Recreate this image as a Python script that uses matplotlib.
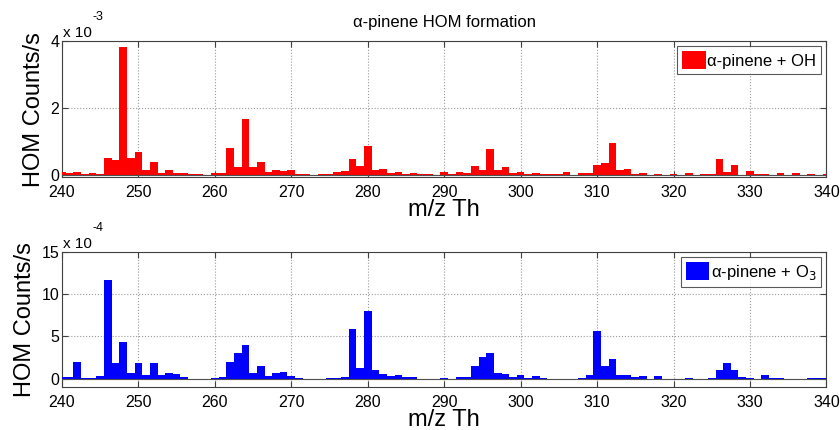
import matplotlib
matplotlib.use("Agg")
import matplotlib.pyplot as plt
import numpy as np

plt.rcParams['font.family'] = ['Liberation Sans', 'DejaVu Sans']

# m/z (Th), one bar per unit mass
mz = np.arange(240, 341)

# alpha-pinene + OH, in units of 1e-3 counts/s
oh_vals = [0.09, 0.06, 0.10, 0.03, 0.06, 0.05, 0.53, 0.45, 3.82, 0.51,
           0.70, 0.15, 0.41, 0.08, 0.17, 0.08, 0.06, 0.03, 0.03, 0.01,
           0.06, 0.06, 0.82, 0.25, 1.68, 0.25, 0.39, 0.10, 0.15, 0.12,
           0.15, 0.05, 0.05, 0.00, 0.05, 0.05, 0.09, 0.12, 0.48, 0.28,
           0.87, 0.15, 0.19, 0.08, 0.11, 0.05, 0.08, 0.05, 0.05, 0.02,
           0.09, 0.03, 0.10, 0.08, 0.29, 0.17, 0.78, 0.15, 0.25, 0.08,
           0.09, 0.05, 0.08, 0.05, 0.04, 0.04, 0.10, 0.02, 0.06, 0.06,
           0.30, 0.38, 0.97, 0.15, 0.18, 0.03, 0.06, 0.02, 0.04, 0.02,
           0.04, 0.02, 0.06, 0.02, 0.04, 0.05, 0.48, 0.11, 0.30, 0.02,
           0.12, 0.03, 0.03, 0.02, 0.08, 0.02, 0.06, 0.02, 0.04, 0.02,
           0.04]
oh_scale = 1e-3

# alpha-pinene + O3, in units of 1e-4 counts/s
o3_vals = [0.2, 0.2, 2.0, 0.08, 0.08, 0.27, 11.7, 1.9, 4.3, 0.6,
           1.9, 0.4, 1.9, 0.4, 0.6, 0.5, 0.15, 0.0, 0.0, 0.0,
           0.08, 0.15, 1.95, 3.0, 4.0, 0.7, 1.45, 0.3, 0.65, 0.8,
           0.3, 0.1, 0.0, 0.0, 0.0, 0.03, 0.1, 0.15, 5.9, 1.3,
           8.0, 1.0, 0.5, 0.3, 0.45, 0.15, 0.15, 0.0, 0.0, 0.0,
           0.1, 0.0, 0.15, 0.15, 1.5, 2.55, 3.05, 0.6, 0.55, 0.15,
           0.4, 0.1, 0.3, 0.03, 0.0, 0.0, 0.0, 0.0, 0.08, 0.4,
           5.6, 1.45, 2.3, 0.4, 0.45, 0.15, 0.3, 0.0, 0.3, 0.0,
           0.0, 0.0, 0.08, 0.0, 0.0, 0.1, 1.05, 1.9, 1.05, 0.15,
           0.1, 0.0, 0.45, 0.1, 0.08, 0.0, 0.0, 0.0, 0.08, 0.08,
           0.08]
o3_scale = 1e-4

xticks = [240, 250, 260, 270, 280, 290, 300, 310, 320, 330, 340]
oh_yticks = [0, 2, 4]
o3_yticks = [0, 5, 10, 15]

fig = plt.figure(figsize=(8.4, 4.3), dpi=100)
ax1 = fig.add_axes([0.0738, 0.588, 0.910, 0.316])
ax2 = fig.add_axes([0.0738, 0.100, 0.910, 0.314])


def style(ax, vals, scale, yticks, ylim_lo, color, label, exp):
    ax.bar(mz, np.array(vals) * scale, width=1.0, color=color,
           linewidth=0, label=label, zorder=3)
    ax.axhline(0, color='#505050', lw=0.8, zorder=4)
    ax.set_xlim(240, 340)
    ax.set_ylim(ylim_lo * scale, yticks[-1] * scale)
    ax.set_xticks(xticks)
    ax.set_yticks([t * scale for t in yticks])
    ax.set_yticklabels([str(t) for t in yticks])
    ax.tick_params(direction='in', top=True, right=True, length=4,
                   labelsize=11.5, color='#404040')
    ax.tick_params(axis='x', pad=6)
    ax.tick_params(axis='y', pad=2)
    ax.grid(True, linestyle=':', color='#999999', lw=0.8, zorder=0)
    for s in ax.spines.values():
        s.set_color('#404040')
        s.set_linewidth(0.8)
    ax.set_xlabel('m/z Th', fontsize=17, labelpad=-1)
    ax.set_ylabel('HOM Counts/s', fontsize=17, labelpad=4)
    ax.annotate('x 10', xy=(0, 1), xycoords='axes fraction',
                xytext=(1, 1), textcoords='offset points',
                ha='left', va='bottom', fontsize=11)
    ax.annotate(exp, xy=(0, 1), xycoords='axes fraction',
                xytext=(22, 13), textcoords='offset points',
                ha='left', va='bottom', fontsize=9)
    leg = ax.legend(loc='upper right', fontsize=12, frameon=True,
                    fancybox=False, handlelength=1.4, handleheight=1.3,
                    handletextpad=0.1, borderpad=0.3, borderaxespad=0.3)
    leg.get_frame().set_edgecolor('#303030')
    leg.get_frame().set_linewidth(0.8)


style(ax1, oh_vals, oh_scale, oh_yticks, -0.05, 'red',
      'α-pinene + OH', '-3')
style(ax2, o3_vals, o3_scale, o3_yticks, -1.0, 'blue',
      'α-pinene + O$_3$', '-4')

ax1.set_title('α-pinene HOM formation', fontsize=12, pad=10)

fig.savefig('out.png', dpi=100)
